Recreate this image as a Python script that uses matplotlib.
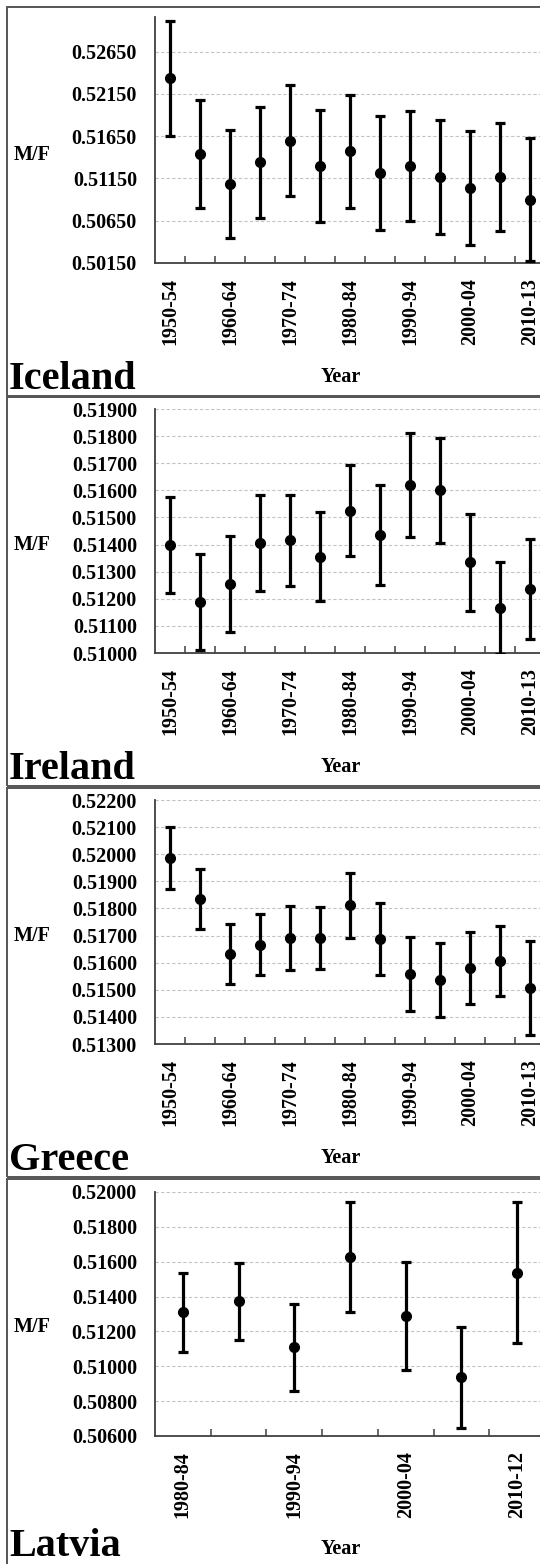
import numpy as np
import matplotlib
matplotlib.use('Agg')
import matplotlib.pyplot as plt
from matplotlib.patches import Rectangle

plt.rcParams['font.family'] = ['Liberation Serif', 'DejaVu Serif']
plt.rcParams['font.weight'] = 'bold'

#------------------------------#
#-----data---------------------#
#------------------------------#

periods = ['1950-54', '1955-59', '1960-64', '1965-69', '1970-74', '1975-79', '1980-84',
           '1985-89', '1990-94', '1995-99', '2000-04', '2005-09', '2010-13']
periods_latvia = ['1980-84', '1985-89', '1990-94', '1995-99', '2000-04', '2005-09', '2010-12']

iceland_mf = [0.52335, 0.51437, 0.51087, 0.51343, 0.51599, 0.51300, 0.51469,
              0.51213, 0.51300, 0.51166, 0.51036, 0.51166, 0.50898]
iceland_err = [0.00679, 0.00640, 0.00636, 0.00658, 0.00658, 0.00664, 0.00664,
               0.00674, 0.00650, 0.00674, 0.00676, 0.00642, 0.00725]

ireland_mf = [0.51399, 0.51187, 0.51256, 0.51404, 0.51415, 0.51355, 0.51525,
              0.51435, 0.51620, 0.51600, 0.51334, 0.51166, 0.51236]
ireland_err = [0.00176, 0.00177, 0.00177, 0.00177, 0.00169, 0.00165, 0.00169,
               0.00183, 0.00193, 0.00194, 0.00180, 0.00168, 0.00183]

greece_mf = [0.51986, 0.51836, 0.51632, 0.51667, 0.51692, 0.51692, 0.51812,
             0.51687, 0.51557, 0.51536, 0.51580, 0.51606, 0.51507]
greece_err = [0.00113, 0.00110, 0.00112, 0.00112, 0.00118, 0.00115, 0.00120,
              0.00132, 0.00136, 0.00137, 0.00134, 0.00130, 0.00172]

latvia_mf = [0.51309, 0.51372, 0.51108, 0.51628, 0.51288, 0.50936, 0.51536]
latvia_err = [0.00227, 0.00220, 0.00249, 0.00315, 0.00308, 0.00290, 0.00405]

iceland_ticks = [0.50150, 0.50650, 0.51150, 0.51650, 0.52150, 0.52650]
ireland_ticks = [0.51000, 0.51100, 0.51200, 0.51300, 0.51400, 0.51500, 0.51600,
                 0.51700, 0.51800, 0.51900]
greece_ticks = [0.51300, 0.51400, 0.51500, 0.51600, 0.51700, 0.51800, 0.51900,
                0.52000, 0.52100, 0.52200]
latvia_ticks = [0.50600, 0.50800, 0.51000, 0.51200, 0.51400, 0.51600, 0.51800, 0.52000]

# name, labels, values, errors, ticks, y max, panel top, axes top, axes bottom,
# title baseline (pixels)
panels = [
    ('Iceland', periods, iceland_mf, iceland_err, iceland_ticks, 0.5306, 7, 17, 263, 389),
    ('Ireland', periods, ireland_mf, ireland_err, ireland_ticks, 0.519, 397, 409, 653, 779),
    ('Greece', periods, greece_mf, greece_err, greece_ticks, 0.522, 788, 800, 1044, 1170),
    ('Latvia', periods_latvia, latvia_mf, latvia_err, latvia_ticks, 0.520, 1179, 1192, 1436, 1556),
]

W, H = 540, 1564
fig = plt.figure(figsize=(W / 100, H / 100), dpi=100)


def fx(px):
    return px / W


def fy(py):
    return 1 - py / H


for name, labels, mf, err, ticks, ymax, ptop, atop, abot, tbase in panels:
    # panel frame
    fig.add_artist(Rectangle((fx(7), fy(ptop + 389)), fx(600), 389 / H,
                             transform=fig.transFigure, fill=False,
                             ec='#555555', lw=1.4))

    ax = fig.add_axes([fx(155), fy(abot), fx(390), (abot - atop) / H])
    x = np.arange(len(labels))
    ax.errorbar(x, mf, yerr=err, fmt='o', color='black', ms=7,
                elinewidth=2.3, capsize=3.5, capthick=2.3, zorder=3)

    ax.set_xlim(-0.5, len(labels) - 0.5)
    ax.set_ylim(ticks[0], ymax)
    ax.set_yticks(ticks)
    ax.set_yticklabels([f'{t:.5f}' for t in ticks])
    ax.yaxis.grid(True, linestyle=(0, (3, 2)), color='#c4c4c4', lw=0.8)
    ax.set_axisbelow(True)

    ax.set_xticks(x[::2])
    ax.set_xticklabels(labels[::2], rotation=90)
    ax.set_xticks(x[:-1] + 0.5, minor=True)
    ax.tick_params(axis='x', which='major', length=0, pad=11, labelsize=14.5)
    ax.tick_params(axis='x', which='minor', direction='in', length=5,
                   width=1.1, color='#404040')
    ax.tick_params(axis='y', length=0, pad=13, labelsize=14.5)

    for s in ['top', 'right']:
        ax.spines[s].set_visible(False)
    for s in ['left', 'bottom']:
        ax.spines[s].set_color('#404040')
        ax.spines[s].set_linewidth(1.3)

    fig.text(fx(32), fy(ptop + 148), 'M/F', fontsize=14.5, fontweight='bold',
             ha='center', va='center')
    fig.text(fx(341), fy(ptop + 370), 'Year', fontsize=14.5, fontweight='bold',
             ha='center', va='center')
    fig.text(fx(9), fy(tbase), name, fontsize=29, fontweight='bold',
             ha='left', va='baseline')

fig.savefig('out.png', dpi=100)
